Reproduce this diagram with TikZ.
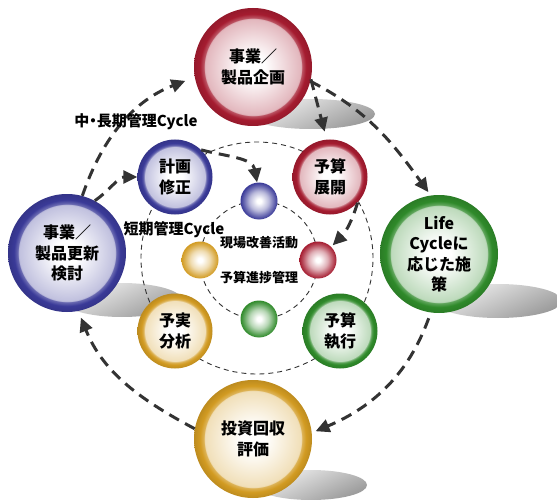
\documentclass[tikz,border=0pt]{standalone}
\usepackage{fontspec}
\setmainfont{Noto Sans CJK JP}
\usetikzlibrary{arrows.meta}
\definecolor{blueC}{HTML}{3A3A98}
\definecolor{redC}{HTML}{A51C30}
\definecolor{greenC}{HTML}{2F8A2A}
\definecolor{goldC}{HTML}{D29B22}
\definecolor{arrC}{HTML}{333333}
\newcommand\mkshades[1]{%
\pgfdeclareradialshading{big#1}{\pgfpoint{0bp}{0bp}}{color(0bp)=(white); color(5bp)=(white); color(20.4bp)=(#1!32); color(20.8bp)=(#1!75); color(22.5bp)=(#1); color(25bp)=(#1!90!black); color(50bp)=(#1!90!black)}%
\pgfdeclareradialshading{small#1}{\pgfpoint{0bp}{0bp}}{color(0bp)=(white); color(3bp)=(white); color(13bp)=(#1!35); color(21bp)=(#1!80); color(25bp)=(#1); color(50bp)=(#1)}%
}
\mkshades{blueC}\mkshades{redC}\mkshades{greenC}\mkshades{goldC}
\tikzset{
  x=1pt, y=1pt,
  bigc/.style={circle, inner sep=0pt, minimum size=118pt, shading=big#1, align=center,
    font=\bfseries\fontsize{16}{20.5}\selectfont},
  midc/.style={circle, inner sep=0pt, minimum size=75pt, shading=big#1, align=center,
    font=\bfseries\fontsize{16}{20.5}\selectfont},
  smallc/.style={circle, inner sep=0pt, minimum size=37pt, shading=small#1},
  shadowe/.style={top color=gray!10, bottom color=gray!80, shading angle=25},
  thindash/.style={draw=arrC, line width=0.9pt, dash pattern=on 5pt off 4pt},
  bigarrow/.style={draw=arrC, line width=3pt, dash pattern=on 11pt off 7pt,
    -{Triangle[length=14pt,width=13pt]}},
  lbl/.style={font=\bfseries\fontsize{15}{17}\selectfont},
  slbl/.style={font=\bfseries\fontsize{13}{15}\selectfont},
}
\begin{document}
\begin{tikzpicture}
\useasboundingbox (0,0) rectangle (557,499);
% shadows
\shade[shadowe] (311,385) ellipse [x radius=64, y radius=15];
\shade[shadowe] (122,199) ellipse [x radius=60, y radius=17];
\shade[shadowe] (498,198) ellipse [x radius=64, y radius=17];
\shade[shadowe] (311,14) ellipse [x radius=56, y radius=15];
% dashed rings
\node[thindash, circle, minimum size=232pt, inner sep=0pt] (midring) at (257,241) {};
\node[thindash, circle, minimum size=118pt, inner sep=0pt] (inring) at (259,239) {};
% big circles
\node[bigc=redC] (T) at (253,432) {事業／\\製品企画};
\node[bigc=blueC] (L) at (67,246) {事業／\\製品更新\\検討};
\node[bigc=greenC] (R) at (439,245) {Life\\Cycleに\\応じた施\\策};
\node[bigc=goldC] (B) at (253,60) {投資回収\\評価};
% mid circles
\node[midc=blueC] (M1) at (175,322) {計画\\修正};
\node[midc=redC] (M2) at (330,322) {予算\\展開};
\node[midc=goldC] (M3) at (175,168) {予実\\分析};
\node[midc=greenC] (M4) at (340,168) {予算\\執行};
% small circles
\node[smallc=blueC] (S1) at (259,298) {};
\node[smallc=redC] (S2) at (318,239) {};
\node[smallc=goldC] (S3) at (200,239) {};
\node[smallc=greenC] (S4) at (259,180) {};
% arrows
\draw[bigarrow, shorten >=10pt] (L.75) to[out=71,in=201] (T.190);
\draw[bigarrow, shorten >=4pt] (T.346) to[out=-27,in=126] (R.98);
\draw[bigarrow, shorten >=4pt, shorten <=6pt] (R.262) to[out=250,in=23] (B.6);
\draw[bigarrow, shorten >=7pt] (B.170) to[out=152,in=292] (L.281);
\draw[bigarrow] (L.62) to[out=35,in=180] (M1.west);
\draw[bigarrow] (M1.46) to[out=-15,in=100] (S1.96);
\draw[bigarrow, shorten >=8pt] (T.348) -- (M2.95);
\draw[bigarrow, shorten >=2pt] (M2.-43) to[out=253,in=45] (S2.45);
% labels
\node[lbl] (lab1) at (136,377) {中\kern-0.25em・\kern-0.25em長期管理Cycle};
\node[lbl] (lab2) at (174,269) {短期管理Cycle};
\node[slbl] (lab3) at (259,256) {現場改善活動};
\node[slbl] (lab4) at (259,221) {予算進捗管理};
\end{tikzpicture}
\end{document}
